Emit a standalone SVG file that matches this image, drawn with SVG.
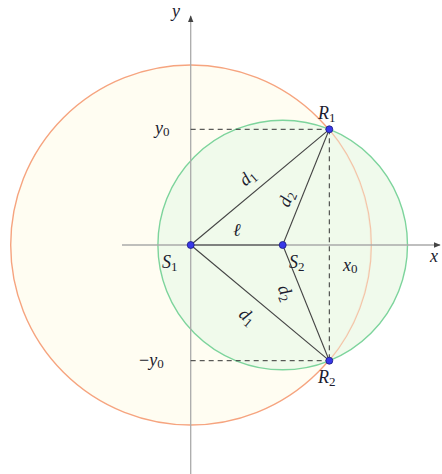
<svg xmlns="http://www.w3.org/2000/svg" width="442" height="474" viewBox="0 0 442 474">
<defs>
<marker id="arr" viewBox="0 0 10 10" refX="9" refY="5" markerWidth="7" markerHeight="7" orient="auto" markerUnits="userSpaceOnUse">
<path d="M0,1 L10,5 L0,9 Z" fill="#444"/>
</marker>
<style>
.axis{stroke:#aaaaaa;stroke-width:1.3;fill:none}
.dash{stroke:#333;stroke-width:1;stroke-dasharray:5,4;fill:none}
.seg{stroke:#444;stroke-width:1.1;fill:none}
.pt{fill:#3838e8;stroke:#1a1a80;stroke-width:0.8}
.lbl{font-family:"Liberation Serif",serif;font-size:18px;fill:#1c1c2e}
.it{font-style:italic}
.sub{font-size:13px;font-style:normal}
</style>
</defs>
<rect width="442" height="474" fill="#ffffff"/>
<g id="circle-orange">
<circle cx="190.7" cy="245" r="180" fill="#fffdf2" stroke="#f6a47f" stroke-width="1.4"/>
</g>
<g id="circle-green">
<circle cx="282.7" cy="245" r="124.8" fill="#eefaea" fill-opacity="0.9" stroke="#7dd49c" stroke-width="1.4"/>
<path d="M329.3,129.3 A180,180 0 0 1 329.3,360.7" fill="none" stroke="#f6a47f" stroke-opacity="0.6" stroke-width="1.2"/>
</g>
<g id="axes">
<line class="axis" x1="122" y1="245" x2="440" y2="245" marker-end="url(#arr)"/>
<line class="axis" x1="190.7" y1="474" x2="190.7" y2="16" marker-end="url(#arr)"/>
</g>
<g id="connectors">
<line class="dash" x1="190.7" y1="129.3" x2="329.3" y2="129.3"/>
<line class="dash" x1="190.7" y1="360.7" x2="329.3" y2="360.7"/>
<line class="dash" x1="329.3" y1="129.3" x2="329.3" y2="360.7"/>
<line class="seg" x1="190.7" y1="245" x2="329.3" y2="129.3"/>
<line class="seg" x1="190.7" y1="245" x2="329.3" y2="360.7"/>
<line class="seg" x1="190.7" y1="245" x2="282.7" y2="245"/>
<line class="seg" x1="282.7" y1="245" x2="329.3" y2="129.3"/>
<line class="seg" x1="282.7" y1="245" x2="329.3" y2="360.7"/>
</g>
<g id="S1"><circle class="pt" cx="190.7" cy="245" r="3.5"/><text class="lbl it" x="162" y="268">S<tspan class="sub" dy="3">1</tspan></text></g>
<g id="S2"><circle class="pt" cx="282.7" cy="245" r="3.5"/><text class="lbl it" x="289" y="268">S<tspan class="sub" dy="3">2</tspan></text></g>
<g id="R1"><circle class="pt" cx="329.3" cy="129.3" r="3.5"/><text class="lbl it" x="318" y="119">R<tspan class="sub" dy="3">1</tspan></text></g>
<g id="R2"><circle class="pt" cx="329.3" cy="360.7" r="3.5"/><text class="lbl it" x="318" y="383">R<tspan class="sub" dy="3">2</tspan></text></g>
<g id="labels">
<text class="lbl it" x="172" y="17">y</text>
<text class="lbl it" x="430" y="262">x</text>
<text class="lbl it" x="155" y="134">y<tspan class="sub" dy="2">0</tspan></text>
<text class="lbl it" x="139" y="366"><tspan font-style="normal">−</tspan>y<tspan class="sub" dy="2">0</tspan></text>
<text class="lbl it" x="343" y="271">x<tspan class="sub" dy="2">0</tspan></text>
<text class="lbl it" x="233" y="236">ℓ</text>
<text class="lbl it" transform="translate(248,178) rotate(-40)" text-anchor="middle" y="5">d<tspan class="sub" dy="3">1</tspan></text>
<text class="lbl it" transform="translate(287,199) rotate(-68)" text-anchor="middle" y="5">d<tspan class="sub" dy="3">2</tspan></text>
<text class="lbl it" transform="translate(285,293) rotate(68)" text-anchor="middle" y="5">d<tspan class="sub" dy="3">2</tspan></text>
<text class="lbl it" transform="translate(247,317) rotate(40)" text-anchor="middle" y="5">d<tspan class="sub" dy="3">1</tspan></text>
</g>
</svg>
